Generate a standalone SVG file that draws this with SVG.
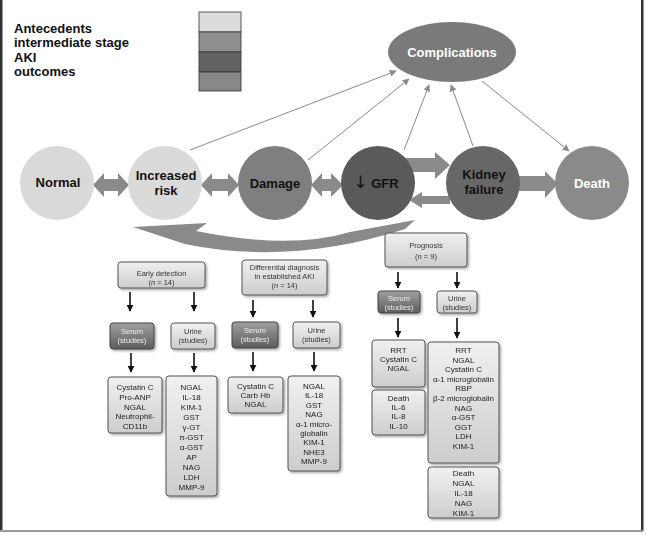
<svg xmlns="http://www.w3.org/2000/svg" width="647" height="535" viewBox="0 0 647 535">
<style>
.lg{font-family:"Liberation Sans",Arial,sans-serif;font-weight:bold;font-size:13px;fill:#111}
.ct{font-family:"Liberation Sans",Arial,sans-serif;font-weight:bold;font-size:13px;text-anchor:middle}
.bt{font-family:"Liberation Sans",Arial,sans-serif;font-size:7.5px;fill:#333;text-anchor:middle}
.rt{font-family:"Liberation Sans",Arial,sans-serif;font-size:8px;fill:#222;text-anchor:middle}
.st{font-family:"Liberation Sans",Arial,sans-serif;font-size:7.5px;fill:#eee;text-anchor:middle}
.box{fill:url(#gl);stroke:#555;stroke-width:1}
.dbox{fill:url(#gd);stroke:#444;stroke-width:1}
.blk{fill:#8a8a8a}
.thin{stroke:#8a8a8a;stroke-width:1;fill:none;marker-end:url(#ah)}
.down{stroke:#111;stroke-width:1.6;fill:none;marker-end:url(#dh)}
</style>
<defs>
<linearGradient id="gl" x1="0" y1="0" x2="0" y2="1"><stop offset="0" stop-color="#f0f0f0"/><stop offset="1" stop-color="#cdcdcd"/></linearGradient>
<linearGradient id="gd" x1="0" y1="0" x2="0" y2="1"><stop offset="0" stop-color="#a0a0a0"/><stop offset="1" stop-color="#5c5c5c"/></linearGradient>
<filter id="sh" x="-10%" y="-10%" width="130%" height="130%"><feDropShadow dx="1.5" dy="1.5" stdDeviation="0.8" flood-color="#000" flood-opacity="0.35"/></filter>
<marker id="ah" viewBox="0 0 10 10" refX="9" refY="5" markerWidth="7" markerHeight="7" markerUnits="userSpaceOnUse" orient="auto"><path d="M0,0 L10,5 L0,10 z" fill="#8a8a8a"/></marker>
<marker id="dh" viewBox="0 0 10 10" refX="9" refY="5" markerWidth="7" markerHeight="7" markerUnits="userSpaceOnUse" orient="auto"><path d="M0,0 L10,5 L0,10 z" fill="#111"/></marker>
</defs>
<rect width="647" height="535" fill="#fff"/>
<rect x="0" y="0" width="2.5" height="531" fill="#333"/>
<rect x="641" y="0" width="2.5" height="531" fill="#333"/>
<rect x="0" y="530" width="643" height="2" fill="#999"/>

<g id="legend">
<text class="lg" x="14" y="33">Antecedents</text>
<text class="lg" x="14" y="47">intermediate stage</text>
<text class="lg" x="14" y="62">AKI</text>
<text class="lg" x="14" y="76">outcomes</text>
<rect x="199" y="12" width="42" height="20" fill="#dcdcdc" stroke="#333" stroke-width="0.8"/>
<rect x="199" y="32" width="42" height="20" fill="#8e8e8e" stroke="#333" stroke-width="0.8"/>
<rect x="199" y="52" width="42" height="20" fill="#636363" stroke="#333" stroke-width="0.8"/>
<rect x="199" y="72" width="42" height="19" fill="#888" stroke="#333" stroke-width="0.8"/>
</g>

<g id="connectors">
<polygon class="blk" points="93,185 104,173 104,179 118,179 118,173 129,185 118,197 118,191 104,191 104,197"/>
<polygon class="blk" points="201,185 212,173 212,179 228,179 228,173 239,185 228,197 228,191 212,191 212,197"/>
<polygon class="blk" points="311,185 322,173 322,179 331,179 331,173 343,185 331,197 331,191 322,191 322,197"/>
<polygon class="blk" points="400,158 435,158 435,152 450,165 435,179 435,172 400,172"/>
<polygon class="blk" points="450,196 422,196 422,192 409,200 422,208 422,204 450,204"/>
<polygon class="blk" points="515,176 545,176 545,171 558,184 545,198 545,191 515,191"/>
<path class="blk" d="M133,227 L207,223 L196,231 Q290,250 350,232 L415,220 L405,229 Q290,266 185,244 Z"/>
<line class="thin" x1="190" y1="150" x2="396" y2="71"/>
<line class="thin" x1="308" y1="160" x2="409" y2="79"/>
<line class="thin" x1="404" y1="150" x2="429" y2="85"/>
<line class="thin" x1="473" y1="146" x2="451" y2="85"/>
<line class="thin" x1="482" y1="81" x2="569" y2="151"/>
<line class="down" x1="130" y1="292" x2="130" y2="311"/>
<line class="down" x1="194" y1="292" x2="194" y2="311"/>
<line class="down" x1="131" y1="353" x2="131" y2="372"/>
<line class="down" x1="194" y1="353" x2="194" y2="372"/>
<line class="down" x1="253" y1="300" x2="253" y2="317"/>
<line class="down" x1="313" y1="300" x2="313" y2="317"/>
<line class="down" x1="253" y1="352" x2="253" y2="371"/>
<line class="down" x1="314" y1="352" x2="314" y2="371"/>
<line class="down" x1="398" y1="272" x2="398" y2="288"/>
<line class="down" x1="457" y1="272" x2="457" y2="288"/>
<line class="down" x1="398" y1="318" x2="398" y2="337"/>
<line class="down" x1="457" y1="318" x2="457" y2="338"/>
</g>

<g id="complications">
<ellipse cx="452" cy="52" rx="64" ry="30" fill="#7a7a7a"/>
<text class="ct" x="452" y="57" fill="#fff">Complications</text>
</g>
<g id="normal">
<circle cx="57" cy="183" r="37" fill="#d9d9d9"/>
<text class="ct" x="58" y="187" fill="#111">Normal</text>
</g>
<g id="increased-risk">
<circle cx="165" cy="183" r="37" fill="#dadada"/>
<text class="ct" x="166" y="180" fill="#111">Increased</text>
<text class="ct" x="166" y="195" fill="#111">risk</text>
</g>
<g id="damage">
<circle cx="275" cy="183" r="37" fill="#7f7f7f"/>
<text class="ct" x="275" y="188" fill="#111">Damage</text>
</g>
<g id="gfr">
<circle cx="378" cy="183" r="37" fill="#5a5a5a"/>
<text class="ct" x="376" y="188" fill="#111"><tspan font-family="DejaVu Sans, sans-serif" font-size="17" font-weight="normal">↓</tspan> GFR</text>
</g>
<g id="kidney-failure">
<circle cx="483" cy="183" r="37" fill="#676767"/>
<text class="ct" x="484" y="179" fill="#111">Kidney</text>
<text class="ct" x="484" y="194" fill="#111">failure</text>
</g>
<g id="death">
<circle cx="592" cy="183" r="37" fill="#8a8a8a"/>
<text class="ct" x="592" y="188" fill="#fff">Death</text>
</g>

<g id="early-detection" filter="url(#sh)">
<rect class="box" x="118" y="262" width="87" height="26" rx="3"/>
<text class="bt" x="161.5" y="276">Early detection</text>
<text class="bt" x="161.5" y="285">(<tspan font-style="italic">n</tspan> = 14)</text>
</g>
<g id="ed-serum" filter="url(#sh)">
<rect class="dbox" x="110" y="323" width="44" height="26" rx="3"/>
<text class="st" x="132" y="334">Serum</text>
<text class="st" x="132" y="343">(studies)</text>
</g>
<g id="ed-urine" filter="url(#sh)">
<rect class="box" x="171" y="323" width="44" height="26" rx="3"/>
<text class="bt" x="193" y="334">Urine</text>
<text class="bt" x="193" y="343">(studies)</text>
</g>
<g id="ed-serum-markers" filter="url(#sh)">
<rect class="box" x="108" y="377" width="54" height="56" rx="3"/>
<text class="rt" x="135" y="390">Cystatin C</text>
<text class="rt" x="135" y="400">Pro-ANP</text>
<text class="rt" x="135" y="410">NGAL</text>
<text class="rt" x="135" y="419">Neutrophil-</text>
<text class="rt" x="135" y="429">CD11b</text>
</g>
<g id="ed-urine-markers" filter="url(#sh)">
<rect class="box" x="166" y="376" width="51" height="120" rx="3"/>
<text class="rt" x="191.5" y="390">NGAL</text>
<text class="rt" x="191.5" y="400">IL-18</text>
<text class="rt" x="191.5" y="410">KIM-1</text>
<text class="rt" x="191.5" y="420">GST</text>
<text class="rt" x="191.5" y="430">γ-GT</text>
<text class="rt" x="191.5" y="440">π-GST</text>
<text class="rt" x="191.5" y="450">α-GST</text>
<text class="rt" x="191.5" y="460">AP</text>
<text class="rt" x="191.5" y="470">NAG</text>
<text class="rt" x="191.5" y="480">LDH</text>
<text class="rt" x="191.5" y="490">MMP-9</text>
</g>

<g id="differential-diagnosis" filter="url(#sh)">
<rect class="box" x="242" y="260" width="85" height="35" rx="3"/>
<text class="bt" x="284.5" y="270">Differential diagnosis</text>
<text class="bt" x="284.5" y="279">in established AKI</text>
<text class="bt" x="284.5" y="288">(<tspan font-style="italic">n</tspan> = 14)</text>
</g>
<g id="dd-serum" filter="url(#sh)">
<rect class="dbox" x="232" y="322" width="46" height="26" rx="3"/>
<text class="st" x="255" y="333">Serum</text>
<text class="st" x="255" y="342">(studies)</text>
</g>
<g id="dd-urine" filter="url(#sh)">
<rect class="box" x="293" y="322" width="47" height="26" rx="3"/>
<text class="bt" x="316.5" y="333">Urine</text>
<text class="bt" x="316.5" y="342">(studies)</text>
</g>
<g id="dd-serum-markers" filter="url(#sh)">
<rect class="box" x="228" y="377" width="55" height="36" rx="3"/>
<text class="rt" x="255.5" y="389">Cystatin C</text>
<text class="rt" x="255.5" y="398">Carb Hb</text>
<text class="rt" x="255.5" y="407">NGAL</text>
</g>
<g id="dd-urine-markers" filter="url(#sh)">
<rect class="box" x="288" y="376" width="52" height="95" rx="3"/>
<text class="rt" x="314" y="389">NGAL</text>
<text class="rt" x="314" y="398.4">IL-18</text>
<text class="rt" x="314" y="407.8">GST</text>
<text class="rt" x="314" y="417.2">NAG</text>
<text class="rt" x="314" y="426.6">α-1 micro-</text>
<text class="rt" x="314" y="436">globalin</text>
<text class="rt" x="314" y="445.4">KIM-1</text>
<text class="rt" x="314" y="454.8">NHE3</text>
<text class="rt" x="314" y="464.2">MMP-9</text>
</g>

<g id="prognosis" filter="url(#sh)">
<rect class="box" x="385" y="233" width="82" height="34" rx="3"/>
<text class="bt" x="426" y="248">Prognosis</text>
<text class="bt" x="426" y="259">(<tspan font-style="italic">n</tspan> = 9)</text>
</g>
<g id="p-serum" filter="url(#sh)">
<rect class="dbox" x="378" y="291" width="42" height="22" rx="3"/>
<text class="st" x="399" y="301">Serum</text>
<text class="st" x="399" y="310">(studies)</text>
</g>
<g id="p-urine" filter="url(#sh)">
<rect class="box" x="437" y="291" width="40" height="22" rx="3"/>
<text class="bt" x="457" y="301">Urine</text>
<text class="bt" x="457" y="310">(studies)</text>
</g>
<g id="p-serum-markers" filter="url(#sh)">
<rect class="box" x="372" y="340" width="53" height="47" rx="3"/>
<text class="rt" x="398.5" y="353">RRT</text>
<text class="rt" x="398.5" y="362">Cystatin C</text>
<text class="rt" x="398.5" y="371">NGAL</text>
</g>
<g id="p-serum-death" filter="url(#sh)">
<rect class="box" x="372" y="390" width="53" height="45" rx="3"/>
<text class="rt" x="398.5" y="401">Death</text>
<text class="rt" x="398.5" y="410">IL-6</text>
<text class="rt" x="398.5" y="419">IL-8</text>
<text class="rt" x="398.5" y="429">IL-10</text>
</g>
<g id="p-urine-markers" filter="url(#sh)">
<rect class="box" x="428" y="342" width="71" height="121" rx="3"/>
<text class="rt" x="463.5" y="353">RRT</text>
<text class="rt" x="463.5" y="362.6">NGAL</text>
<text class="rt" x="463.5" y="372.2">Cystatin C</text>
<text class="rt" x="463.5" y="381.8">α-1 microglobalin</text>
<text class="rt" x="463.5" y="391.4">RBP</text>
<text class="rt" x="463.5" y="401">β-2 microglobalin</text>
<text class="rt" x="463.5" y="410.6">NAG</text>
<text class="rt" x="463.5" y="420.2">α-GST</text>
<text class="rt" x="463.5" y="429.8">GGT</text>
<text class="rt" x="463.5" y="439.4">LDH</text>
<text class="rt" x="463.5" y="449">KIM-1</text>
</g>
<g id="p-urine-death" filter="url(#sh)">
<rect class="box" x="428" y="467" width="71" height="51" rx="3"/>
<text class="rt" x="463.5" y="476">Death</text>
<text class="rt" x="463.5" y="486">NGAL</text>
<text class="rt" x="463.5" y="496">IL-18</text>
<text class="rt" x="463.5" y="506">NAG</text>
<text class="rt" x="463.5" y="516">KIM-1</text>
</g>
</svg>
